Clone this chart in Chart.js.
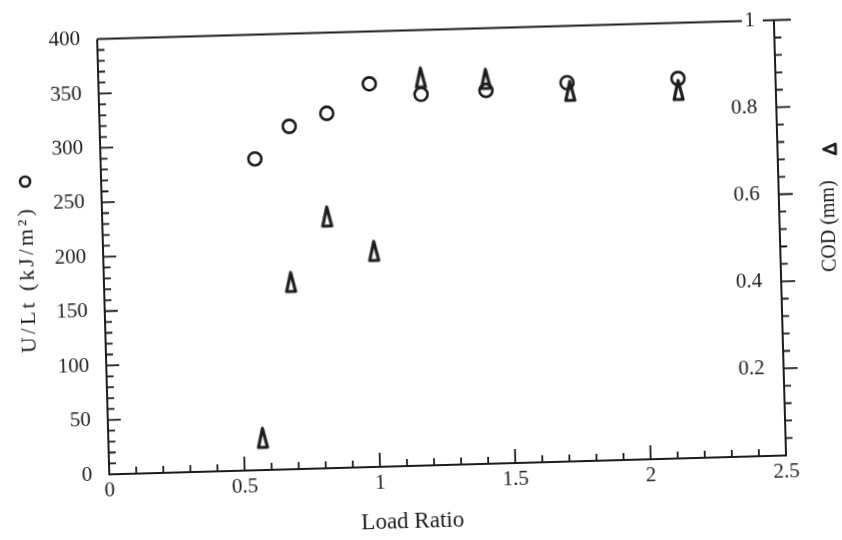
<!DOCTYPE html>
<html>
<head>
<meta charset="utf-8">
<script src="https://cdn.jsdelivr.net/npm/chart.js@4.4.1/dist/chart.umd.min.js"></script>
<style>
  html, body { margin: 0; padding: 0; background: #fff; }
  #wrap { width: 842px; height: 540px; position: relative; overflow: hidden; background: #fff; }
  /* la figura original esta escaneada algo girada */
  #chart { display: block; transform: rotate(-1.6deg); transform-origin: 442px 244px; }
</style>
</head>
<body>
<div id="wrap"><canvas id="chart" width="842" height="540"></canvas></div>
<script>
// Datos
const loadRatioU = [0.57, 0.70, 0.84, 1.00, 1.19, 1.43, 1.73, 2.14];
const energyU = [286, 315, 326, 352, 341, 343, 348, 349];
const loadRatioCod = [0.57, 0.69, 0.83, 1.00, 1.19, 1.43, 1.74, 2.14];
const codValues = [0.074, 0.43, 0.578, 0.496, 0.891, 0.884, 0.851, 0.846];

// Etiquetas de los ejes
const xTicks = [0, 0.5, 1, 1.5, 2, 2.5];
const yTicks = [0, 50, 100, 150, 200, 250, 300, 350, 400];
const codTicks = [0.2, 0.4, 0.6, 0.8, 1];

const INK = '#1c1c1c';
const SERIF = "'Liberation Serif', 'DejaVu Serif', serif";

// Triangulo alto y estrecho como en el original
function makeTriangle(w, h) {
    const c = document.createElement('canvas');
    c.width = w + 6; c.height = h + 6;
    const g = c.getContext('2d');
    g.strokeStyle = INK;
    g.lineWidth = 3.2;
    g.lineJoin = 'round';
    g.beginPath();
    g.moveTo(c.width / 2, 3);
    g.lineTo(c.width / 2 + w / 2, h + 3);
    g.lineTo(c.width / 2 - w / 2, h + 3);
    g.closePath();
    g.stroke();
    return c;
}
const triangleMark = makeTriangle(9, 19);

// Marco, marcas menores/mayores y titulos de los ejes
const framePlugin = {
    id: 'framePlugin',
    afterDraw(chart) {
        const { ctx, chartArea: a, scales: { x, y, y2 } } = chart;
        ctx.save();
        ctx.strokeStyle = INK;
        ctx.lineWidth = 2;
        ctx.beginPath();
        ctx.moveTo(a.left, a.top); ctx.lineTo(a.left, a.bottom);
        ctx.lineTo(a.right, a.bottom); ctx.lineTo(a.right, a.top);
        ctx.moveTo(a.left, a.top); ctx.lineTo(a.right - 32, a.top);
        ctx.moveTo(a.right - 11, a.top); ctx.lineTo(a.right + 17, a.top);
        ctx.stroke();

        ctx.lineWidth = 1.8;
        ctx.beginPath();
        // eje x: marcas hacia dentro
        for (let i = 1; i < 25; i++) {
            const px = x.getPixelForValue(i / 10);
            const len = i % 5 === 0 ? 14 : 7;
            ctx.moveTo(px, a.bottom); ctx.lineTo(px, a.bottom - len);
        }
        // eje izquierdo: marcas hacia dentro
        for (let i = 1; i < 40; i++) {
            const py = y.getPixelForValue(i * 10);
            const len = i % 5 === 0 ? 13 : 7;
            ctx.moveTo(a.left, py); ctx.lineTo(a.left + len, py);
        }
        // eje derecho: marcas hacia fuera
        for (let i = 1; i < 25; i++) {
            const py = y2.getPixelForValue(i * 0.04);
            const len = i % 5 === 0 ? 14 : 7;
            ctx.moveTo(a.right, py); ctx.lineTo(a.right + len, py);
        }
        ctx.stroke();

        // titulos
        ctx.fillStyle = INK;
        ctx.textAlign = 'center';
        ctx.textBaseline = 'middle';
        ctx.font = '23px ' + SERIF;
        ctx.fillText('Load Ratio', 405, 521);

        ctx.save();
        ctx.translate(27, 268);
        ctx.rotate(-Math.PI / 2);
        ctx.font = '22px ' + SERIF;
        ctx.letterSpacing = '3px';
        ctx.fillText('U/Lt (kJ/m\u00B2)', 0, 0);
        ctx.restore();
        // simbolo circulo del eje izquierdo
        ctx.lineWidth = 2.6;
        ctx.beginPath();
        ctx.arc(27, 170, 5, 0, Math.PI * 2);
        ctx.stroke();

        ctx.save();
        ctx.translate(830, 237);
        ctx.rotate(-Math.PI / 2);
        ctx.font = '20px ' + SERIF;
        ctx.fillText('COD (mm)', 0, 0);
        ctx.restore();
        // simbolo triangulo del eje derecho (punta hacia la izquierda)
        ctx.lineWidth = 2.8;
        ctx.lineJoin = 'round';
        ctx.beginPath();
        ctx.moveTo(826, 160); ctx.lineTo(838, 155); ctx.lineTo(838, 165); ctx.closePath();
        ctx.stroke();

        ctx.restore();
    }
};

const tickFont = { family: SERIF, size: 21 };
const plainLabel = v => String(v);

new Chart(document.getElementById('chart'), {
    type: 'scatter',
    data: {
        datasets: [{
            label: 'U/Lt',
            data: loadRatioU.map((v, i) => ({ x: v, y: energyU[i] })),
            yAxisID: 'y',
            pointStyle: 'circle',
            pointRadius: 6.5,
            pointBorderWidth: 2.6,
            pointBorderColor: INK,
            pointBackgroundColor: 'rgba(0,0,0,0)'
        }, {
            label: 'COD',
            data: loadRatioCod.map((v, i) => ({ x: v, y: codValues[i] })),
            yAxisID: 'y2',
            pointStyle: triangleMark,
            pointRadius: 10
        }]
    },
    options: {
        responsive: false,
        animation: false,
        devicePixelRatio: 1,
        layout: { padding: { top: 23 } },
        plugins: { legend: { display: false }, tooltip: { enabled: false } },
        scales: {
            x: {
                type: 'linear', min: 0, max: 2.5,
                afterBuildTicks: s => { s.ticks = xTicks.map(v => ({ value: v })); },
                afterFit: s => { s.height = 75; },
                grid: { display: false, drawTicks: false },
                border: { display: false },
                ticks: { color: INK, font: tickFont, padding: 4, maxRotation: 0, callback: plainLabel }
            },
            y: {
                position: 'left', min: 0, max: 400,
                afterBuildTicks: s => { s.ticks = yTicks.map(v => ({ value: v })); },
                afterFit: s => { s.width = 103; },
                grid: { display: false, drawTicks: false },
                border: { display: false },
                ticks: { color: INK, font: tickFont, padding: 17, callback: plainLabel }
            },
            y2: {
                position: 'right', min: 0, max: 1,
                afterBuildTicks: s => { s.ticks = codTicks.map(v => ({ value: v })); },
                afterFit: s => { s.width = 62; },
                grid: { display: false, drawTicks: false },
                border: { display: false },
                ticks: { color: INK, font: tickFont, padding: -19, mirror: true, callback: plainLabel }
            }
        }
    },
    plugins: [framePlugin]
});
</script>
</body>
</html>
